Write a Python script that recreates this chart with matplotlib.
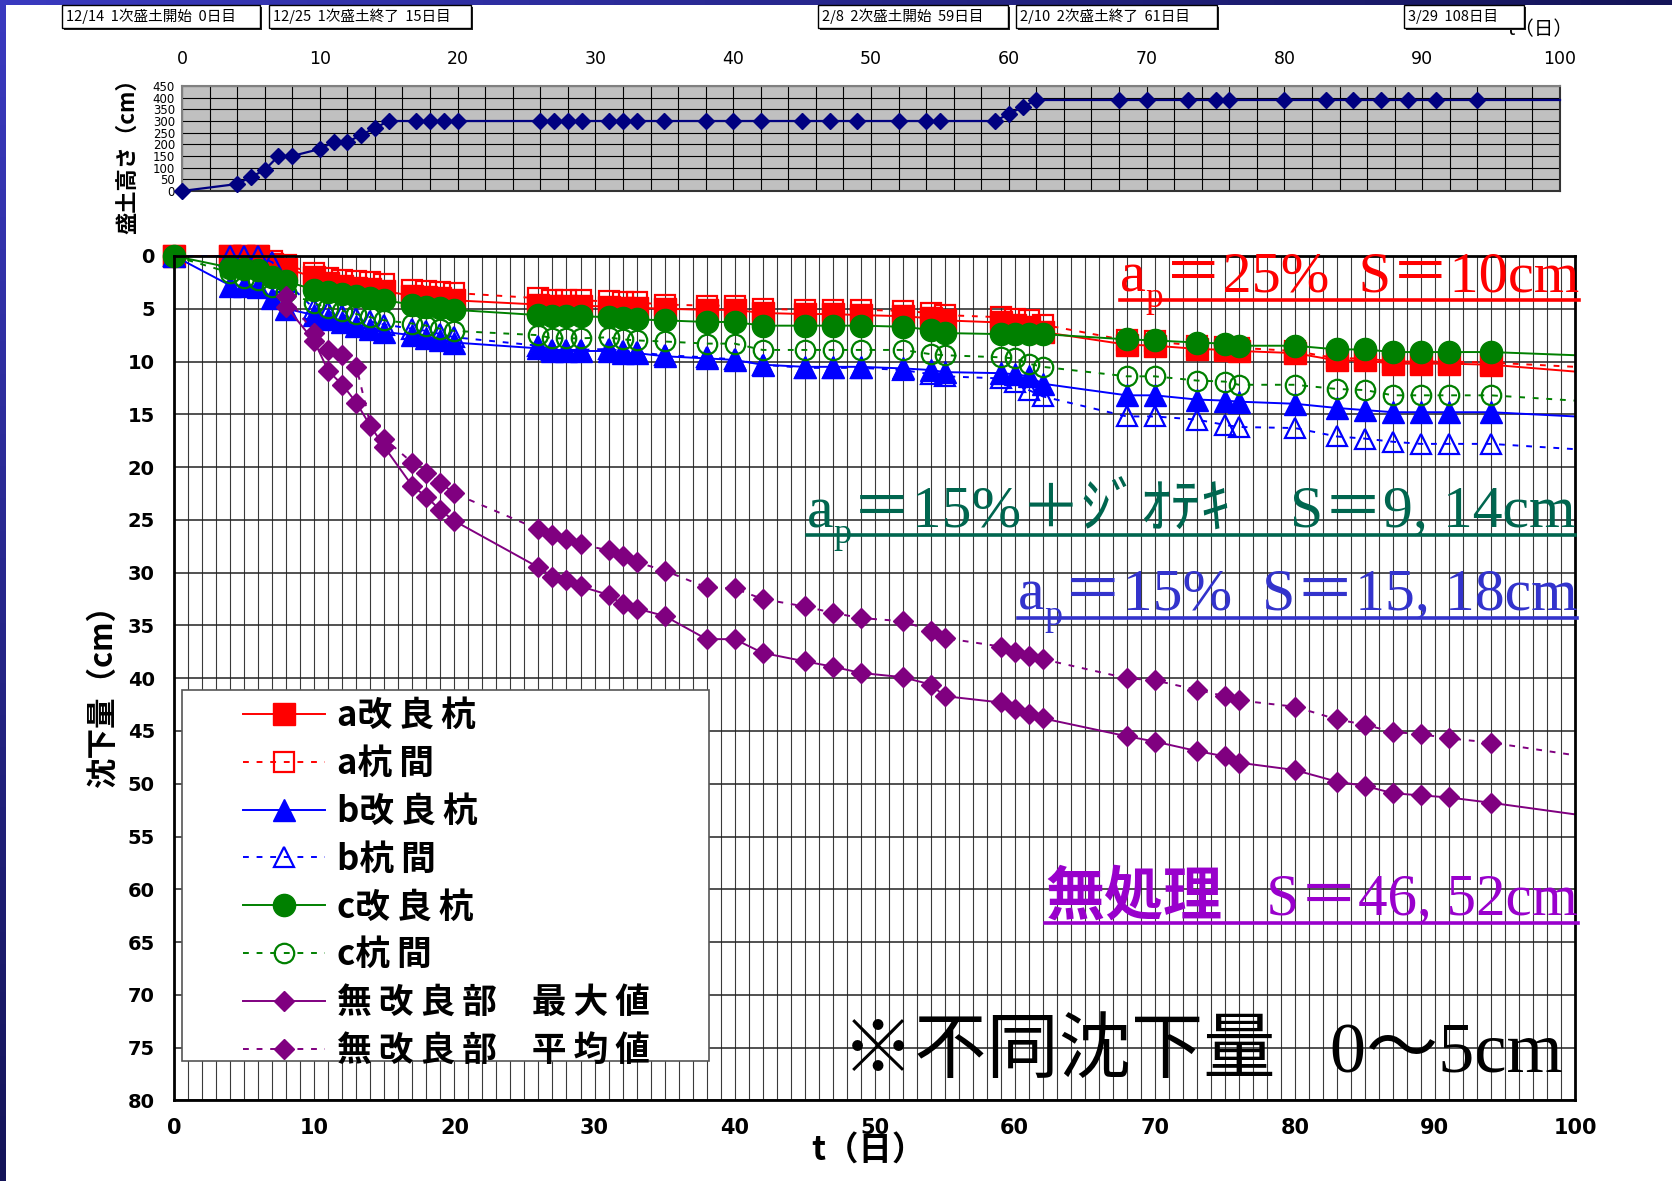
import numpy as np
import matplotlib
matplotlib.use("Agg")
import matplotlib.pyplot as plt
from matplotlib.colors import LinearSegmentedColormap
from matplotlib.lines import Line2D
from matplotlib.patches import Rectangle

W, H = 1672, 1181
JP = "Noto Sans CJK JP"
SERIF = ["Liberation Serif", JP]
NARROW = ["Liberation Sans Narrow", "DejaVu Sans"]
plt.rcParams["font.family"] = [JP, "DejaVu Sans"]

# 経過日数（盛土開始からの日数）
days = [0, 4, 5, 6, 7, 8, 10, 11, 12, 13, 14, 15, 17, 18, 19, 20,
        26, 27, 28, 29, 31, 32, 33, 35, 38, 40, 42, 45, 47, 49,
        52, 54, 55, 59, 60, 61, 62, 68, 70, 73, 75, 76,
        80, 83, 85, 87, 89, 91, 94, 100]

# 盛土高さ (cm)
fill_height = [0, 30, 60, 90, 150, 150, 180, 210, 210, 240, 270, 300, 300, 300, 300, 300,
               300, 300, 300, 300, 300, 300, 300, 300, 300, 300, 300, 300, 300, 300,
               300, 300, 300, 300, 330, 360, 390, 390, 390, 390, 390, 390,
               390, 390, 390, 390, 390, 390, 390, 390]

# 沈下量 (cm)
a_pile = [0, 0, 0, 0, 0.8, 1.2, 2.0, 2.6, 2.8, 3.0, 3.1, 3.3, 3.8, 3.9, 4.0, 4.2,
          4.6, 4.7, 4.7, 4.7, 4.8, 4.9, 4.9, 5.0, 5.1, 5.1, 5.4, 5.5, 5.5, 5.6,
          5.7, 5.9, 6.1, 6.3, 6.5, 6.7, 7.2, 8.4, 8.5, 8.8, 8.9, 9.0,
          9.2, 9.9, 9.9, 10.2, 10.2, 10.2, 10.3, 10.95]
a_between = [0, 0, 0, 0, 0.5, 0.9, 1.6, 2.1, 2.3, 2.4, 2.5, 2.7, 3.2, 3.3, 3.4, 3.5,
             4.0, 4.2, 4.2, 4.2, 4.3, 4.4, 4.4, 4.6, 4.7, 4.7, 5.0, 5.1, 5.1, 5.1,
             5.2, 5.4, 5.6, 5.8, 6.0, 6.1, 6.5, 8.0, 8.1, 8.5, 8.6, 8.7,
             9.0, 9.7, 9.7, 10.0, 10.0, 10.0, 10.1, 10.5]
b_pile = [0, 2.8, 2.8, 2.9, 4.0, 5.0, 5.6, 6.0, 6.3, 6.6, 6.9, 7.2, 7.5, 7.8, 8.0, 8.2,
          8.75, 9.0, 9.0, 9.0, 9.0, 9.2, 9.2, 9.5, 9.7, 9.85, 10.3, 10.5, 10.5, 10.5,
          10.65, 10.8, 11.0, 11.1, 11.2, 11.4, 12.1, 13.2, 13.2, 13.6, 13.7, 13.8,
          14.0, 14.4, 14.6, 14.8, 14.8, 14.8, 14.8, 15.2]
b_between = [0, 0, 0, 0, 0.6, 2.5, 5.0, 5.3, 5.6, 5.9, 6.2, 6.5, 6.9, 7.1, 7.4, 7.7,
             8.5, 8.9, 8.9, 8.9, 8.8, 9.0, 9.1, 9.4, 9.6, 9.8, 10.3, 10.6, 10.6, 10.6,
             10.8, 11.2, 11.4, 11.6, 11.9, 12.7, 13.3, 15.2, 15.2, 15.5, 16.0, 16.2,
             16.3, 17.1, 17.3, 17.6, 17.8, 17.8, 17.8, 18.3]
c_pile = [0, 1.1, 1.2, 1.3, 2.0, 2.4, 3.2, 3.4, 3.6, 3.8, 4.0, 4.2, 4.6, 4.8, 4.9, 5.1,
          5.6, 5.7, 5.7, 5.7, 5.8, 5.9, 6.0, 6.1, 6.25, 6.25, 6.6, 6.6, 6.6, 6.6,
          6.7, 7.0, 7.3, 7.4, 7.4, 7.4, 7.4, 7.9, 8.0, 8.2, 8.3, 8.5,
          8.5, 8.85, 8.85, 9.1, 9.1, 9.1, 9.1, 9.4]
c_between = [0, 1.6, 2.1, 2.3, 2.9, 3.4, 4.5, 4.9, 5.2, 5.5, 5.8, 6.1, 6.4, 6.6, 6.9, 7.1,
             7.5, 7.8, 7.8, 7.8, 7.7, 7.9, 8.0, 8.1, 8.3, 8.3, 8.9, 8.9, 8.9, 8.9,
             8.9, 9.3, 9.4, 9.6, 9.7, 10.2, 10.5, 11.4, 11.4, 11.8, 11.9, 12.2,
             12.2, 12.6, 12.7, 13.2, 13.2, 13.2, 13.2, 13.7]

# 無改良部は 8 日目から
untreated_days = days[5:]
untreated_max = [4.8, 8.1, 10.9, 12.2, 13.9, 16.1, 18.1, 21.8, 22.8, 24.1, 25.1,
                 29.5, 30.4, 30.7, 31.3, 32.1, 33.0, 33.4, 34.1, 36.3, 36.3, 37.6, 38.4, 38.9, 39.5,
                 39.9, 40.6, 41.7, 42.3, 42.9, 43.4, 43.8, 45.5, 46.0, 46.9, 47.4, 48.0,
                 48.7, 49.8, 50.2, 50.9, 51.1, 51.3, 51.8, 52.9]
untreated_avg = [3.8, 7.3, 8.9, 9.4, 10.5, 16.0, 17.3, 19.6, 20.6, 21.5, 22.5,
                 25.9, 26.4, 26.8, 27.3, 27.9, 28.4, 29.0, 29.8, 31.4, 31.5, 32.5, 33.2, 33.8, 34.3,
                 34.6, 35.5, 36.2, 37.0, 37.5, 37.9, 38.2, 40.0, 40.2, 41.1, 41.7, 42.1,
                 42.7, 43.9, 44.4, 45.1, 45.3, 45.7, 46.1, 47.3]

series_labels = ["a改良杭", "a杭間", "b改良杭", "b杭間", "c改良杭", "c杭間",
                 "無改良部　最大値", "無改良部　平均値"]

events = [("12/14  1次盛土開始  0日目", 62, 260),
          ("12/25  1次盛土終了  15日目", 269, 471),
          ("2/8  2次盛土開始  59日目", 818, 1008),
          ("2/10  2次盛土終了  61日目", 1016, 1217),
          ("3/29  108日目", 1404, 1524)]


def fx(px):
    return px / W


def fy(py):
    return 1 - py / H


def spaced(label):
    # 凡例の文字間を少し空ける
    out = label[0]
    for prev, ch in zip(label, label[1:]):
        out += ch if prev.isascii() or ch == "　" or prev == "　" else "\u2009" + ch
    return out


fig = plt.figure(figsize=(W / 100, H / 100), dpi=100)
fig.patch.set_facecolor("white")

# スライドの青い縁取り
slide = LinearSegmentedColormap.from_list("slide", ["#3a3ac0", "#141458"])
top_bar = fig.add_axes([0, fy(5), 1, 5 / H])
top_bar.imshow(np.linspace(0, 1, 256)[None, :], cmap=slide, aspect="auto")
top_bar.axis("off")
side_bar = fig.add_axes([0, 0, 6 / W, 1])
side_bar.imshow(np.linspace(0, 1, 256)[:, None], cmap=slide, aspect="auto")
side_bar.axis("off")

# ---- 盛土高さ ----
top = fig.add_axes([fx(182), fy(191), (1560 - 182) / W, (191 - 86) / H])
top.set_facecolor("#C0C0C0")
top.plot(days, fill_height, color="#000080", lw=1.6, marker="D", ms=8,
         markevery=slice(0, len(days) - 1), clip_on=False, zorder=3)
top.set_xlim(0, 100)
top.set_ylim(0, 450)
top.set_xticks(range(0, 101, 10))
top.set_xticks(range(0, 101, 2), minor=True)
top.set_yticks(range(0, 451, 50))
top.grid(which="both", color="black", lw=0.8)
top.set_axisbelow(True)
top.xaxis.tick_top()
top.tick_params(which="both", length=0)
top.tick_params(axis="x", pad=13, labelsize=12.5)
top.tick_params(axis="y", pad=5, labelsize=8.5)
for lab in top.get_xticklabels() + top.get_yticklabels():
    lab.set_family(NARROW)
for side in ("left", "top"):
    top.spines[side].set_color("#808080")
for side in ("right", "bottom"):
    top.spines[side].set_color("#333333")
for sp in top.spines.values():
    sp.set_linewidth(1.5)
top.set_ylabel("盛土高さ（cm）", fontsize=16, fontweight="bold")
top.yaxis.set_label_coords(-0.031, 0.38)

# ---- 沈下量 ----
ax = fig.add_axes([fx(174.3), fy(1100.4), (1575 - 174.3) / W, (1100.4 - 256) / H])
dot = (0, (3, 4))
last = slice(0, len(days) - 1)
styles = [
    (a_pile, "#FF0000", "-", "s", 16, "#FF0000", 1.0),
    (a_between, "#FF0000", dot, "s", 14, "none", 1.6),
    (b_pile, "#0000FF", "-", "^", 16, "#0000FF", 1.0),
    (b_between, "#0000FF", dot, "^", 14, "none", 1.6),
    (c_pile, "#008000", "-", "o", 16, "#008000", 1.0),
    (c_between, "#008000", dot, "o", 14, "none", 1.6),
]
handles = []
for vals, col, ls, mk, ms, mfc, mew in styles:
    h, = ax.plot(days, vals, color=col, ls=ls, lw=1.4, marker=mk, ms=ms,
                 mfc=mfc, mec=col, mew=mew, markevery=last, clip_on=False)
    handles.append(h)
ulast = slice(0, len(untreated_days) - 1)
for vals, ls in ((untreated_max, "-"), (untreated_avg, dot)):
    h, = ax.plot(untreated_days, vals, color="#800080", ls=ls, lw=1.4, marker="D",
                 ms=10.5, mfc="#800080", mec="#800080", markevery=ulast, clip_on=False)
    handles.append(h)

ax.set_xlim(0, 100)
ax.set_ylim(80, 0)
ax.set_xticks(range(0, 101, 10))
ax.set_xticks(range(0, 101, 1), minor=True)
ax.set_yticks(range(0, 81, 5))
ax.grid(which="minor", axis="x", color="#3a3a3a", lw=0.8)
ax.grid(which="major", axis="x", color="#3a3a3a", lw=0.8)
ax.grid(which="major", axis="y", color="#222222", lw=1.1)
ax.set_axisbelow(True)
ax.tick_params(which="both", length=0)
ax.tick_params(axis="x", pad=13, labelsize=15)
ax.tick_params(axis="y", pad=14, labelsize=14)
for lab in ax.get_xticklabels():
    lab.set_family(NARROW)
    lab.set_fontweight("bold")
for lab in ax.get_yticklabels():
    lab.set_family("DejaVu Sans")
    lab.set_fontweight("bold")
for sp in ax.spines.values():
    sp.set_linewidth(2)
    sp.set_color("black")

ax.add_patch(Rectangle((0.0055, 0.0467), 0.3762, 0.4393, transform=ax.transAxes,
                       facecolor="white", edgecolor="#555555", lw=1.2, zorder=4))
leg = ax.legend(handles, [spaced(s) for s in series_labels], loc="upper left",
                bbox_to_anchor=(0.049, 0.4766), frameon=False, borderpad=0,
                borderaxespad=0, handlelength=2.35, handletextpad=0.35, labelspacing=0.37,
                prop={"family": [JP, "DejaVu Sans"], "weight": "bold", "size": 25})
leg.set_zorder(5)

fig.text(fx(868), fy(1150), "t（日）", fontsize=24, fontweight="bold",
         ha="center", va="center")
fig.text(fx(103), fy(688), "沈下量（cm）", fontsize=22, fontweight="bold",
         ha="center", va="center", rotation=90)

# ---- 注記 ----
renderer = fig.canvas.get_renderer()


def rich_label(x, base, pieces, color, size, underline=None):
    cur = x
    first = None
    for text, scale, drop, weight in pieces:
        t = fig.text(fx(cur), fy(base + drop * size * 1.389), text, color=color,
                     fontsize=size * scale, family=SERIF, fontweight=weight,
                     ha="left", va="baseline", zorder=6)
        bb = t.get_window_extent(renderer)
        if first is None:
            first = bb.x0
        cur = bb.x1
    if underline is not None:
        fig.add_artist(Line2D([fx(first), fx(cur)], [fy(underline), fy(underline)],
                              color=color, lw=2.6, transform=fig.transFigure, zorder=6))


sub = 0.25
rich_label(1120, 292, [("a", 1, 0, "normal"), ("p", 0.6, sub, "normal"),
                       ("＝25%  S＝10cm", 1, 0, "normal")],
           "#FF0000", 42, underline=299.5)
rich_label(807, 528, [("a", 1, 0, "normal"), ("p", 0.6, sub, "normal"),
                      ("＝15%＋ｼﾞｵﾃｷ　S＝9, 14cm", 1, 0, "normal")],
           "#00664F", 43, underline=535)
rich_label(1018, 610, [("a", 1, 0, "normal"), ("p", 0.6, sub, "normal"),
                       ("＝15%  S＝15, 18cm", 1, 0, "normal")],
           "#3333CC", 43, underline=618)
rich_label(1045, 915, [("無処理", 1, 0, "bold"), ("   S＝46, 52cm", 1, 0, "normal")],
           "#9900CC", 42.5, underline=923)
rich_label(842, 1072, [("※不同沈下量   0～5cm", 1, 0, "normal")], "black", 52)

# ---- 盛土工程メモ ----
fig.text(fx(1540), fy(30), "t（日）", fontsize=14, ha="center", va="center", zorder=6)
for text, x0, x1 in events:
    y0, y1 = 5, 28
    fig.add_artist(Rectangle((fx(x0 + 2), fy(y1 + 2)), (x1 - x0) / W, (y1 - y0) / H,
                             transform=fig.transFigure, facecolor="#222222",
                             edgecolor="none", zorder=7))
    fig.add_artist(Rectangle((fx(x0), fy(y1)), (x1 - x0) / W, (y1 - y0) / H,
                             transform=fig.transFigure, facecolor="white",
                             edgecolor="black", lw=1, zorder=8))
    fig.text(fx(x0 + 4), fy((y0 + y1) / 2), text, fontsize=10.5, ha="left",
             va="center", zorder=9)

fig.savefig("out.png", dpi=100)
